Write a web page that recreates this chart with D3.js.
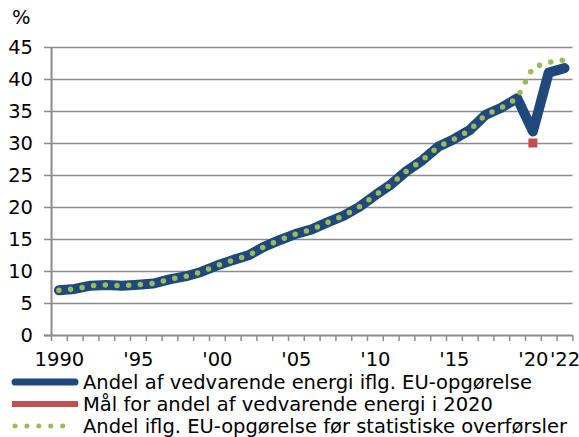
<!DOCTYPE html>
<html>
<head>
<meta charset="utf-8">
<script src="https://cdn.jsdelivr.net/npm/d3@7"></script>
<style>
  body { margin: 0; background: #fff; }
  svg { display: block; }
  text { font-family: "DejaVu Sans", Verdana, sans-serif; }
</style>
</head>
<body>
<svg></svg>
<script>
var width = 579;
var height = 437;
var fontSize = 19.5;

var years = d3.range(1990, 2023);
var euShare = [7.0, 7.2, 7.7, 7.8, 7.7, 7.85, 8.05, 8.7, 9.15, 9.85,
               10.85, 11.7, 12.45, 13.8, 14.85, 15.8, 16.5, 17.6, 18.6, 20.0,
               21.8, 23.5, 25.6, 27.3, 29.4, 30.6, 32.0, 34.4, 35.5, 37.0,
               31.8, 41.0, 41.7];
var beforeTransfers = [7.0, 7.2, 7.7, 7.8, 7.7, 7.85, 8.05, 8.7, 9.15, 9.85,
               10.85, 11.7, 12.45, 13.8, 14.85, 15.8, 16.5, 17.6, 18.6, 20.0,
               21.8, 23.5, 25.6, 27.3, 29.4, 30.6, 32.0, 34.4, 35.5, 37.0,
               41.8, 42.6, 43.0];
var targetYear = 2020;
var targetValue = 30;

var yTicks = [0, 5, 10, 15, 20, 25, 30, 35, 40, 45];
var xLabelYears = [1990, 1995, 2000, 2005, 2010, 2015, 2020, 2022];
var xLabelText = ["1990", "'95", "'00", "'05", "'10", "'15", "'20", "'22"];

var legendLabels = [
  "Andel af vedvarende energi iflg. EU-opgørelse",
  "Mål for andel af vedvarende energi i 2020",
  "Andel iflg. EU-opgørelse før statistiske overførsler"
];

var blue = "#1f497d";
var red = "#c0504d";
var green = "#9bbb59";
var grey = "#8c8c8c";

var plotLeft = 51, plotRight = 572.4, plotTop = 47, plotBottom = 335;

var xScale = d3.scaleLinear()
    .domain([1989.5, 2022.5])
    .range([plotLeft, plotRight]);

var yScale = d3.scaleLinear()
    .domain([0, 45])
    .range([plotBottom, plotTop]);

var svg = d3.select("svg")
    .attr("width", width)
    .attr("height", height);

// gridlines
svg.append("g")
    .attr("transform", `translate(${plotLeft},0)`)
    .call(d3.axisLeft(yScale).tickValues(yTicks.slice(1)).tickSize(-(plotRight - plotLeft)).tickFormat(""))
    .call(g => g.select(".domain").remove())
    .call(g => g.selectAll("line").attr("stroke", grey).attr("stroke-width", 1.5));

// y axis
svg.append("g")
    .attr("class", "y-axis")
    .attr("transform", `translate(${plotLeft},0)`)
    .call(d3.axisLeft(yScale).tickValues(yTicks).tickSize(7).tickPadding(11).tickSizeOuter(0))
    .call(g => g.select(".domain").attr("stroke", grey).attr("stroke-width", 2))
    .call(g => g.selectAll("line").attr("stroke", grey).attr("stroke-width", 1.5))
    .call(g => g.selectAll("text").attr("font-size", fontSize).attr("fill", "#000"));

// x axis: ticks on category edges
var edges = d3.range(1989.5, 2023, 1);
svg.append("g")
    .attr("transform", `translate(0,${plotBottom})`)
    .call(d3.axisBottom(xScale).tickValues(edges).tickSize(6).tickSizeOuter(0).tickFormat(""))
    .call(g => g.select(".domain").attr("stroke", grey).attr("stroke-width", 2)
        .attr("d", `M${plotLeft - 7},0.5H${plotRight}`))
    .call(g => g.selectAll("line").attr("stroke", grey).attr("stroke-width", 1.5));

svg.append("g")
    .attr("transform", `translate(0,${plotBottom})`)
    .call(d3.axisBottom(xScale).tickValues(xLabelYears).tickSize(0).tickPadding(17)
        .tickFormat((d, i) => xLabelText[i]))
    .call(g => g.select(".domain").remove())
    .call(g => g.selectAll("text").attr("font-size", fontSize).attr("fill", "#000"));

svg.append("text")
    .attr("x", 12)
    .attr("y", 24)
    .attr("font-size", fontSize)
    .text("%");

var line = d3.line()
    .x((d, i) => xScale(years[i]))
    .y(d => yScale(d));

svg.append("path")
    .datum(euShare)
    .attr("d", line)
    .attr("fill", "none")
    .attr("stroke", blue)
    .attr("stroke-width", 10)
    .attr("stroke-linejoin", "round")
    .attr("stroke-linecap", "round");

svg.append("path")
    .datum(beforeTransfers)
    .attr("d", line)
    .attr("fill", "none")
    .attr("stroke", green)
    .attr("stroke-width", 5.5)
    .attr("stroke-linecap", "round")
    .attr("stroke-dasharray", "0 11.7");

svg.append("rect")
    .attr("x", xScale(targetYear) - 4.5)
    .attr("y", yScale(targetValue) - 4.5)
    .attr("width", 9)
    .attr("height", 9)
    .attr("fill", red);

// legend
var legend = svg.append("g");
var rowY = [382, 404, 426];

legend.append("line")
    .attr("x1", 15).attr("x2", 75)
    .attr("y1", rowY[0]).attr("y2", rowY[0])
    .attr("stroke", blue).attr("stroke-width", 7).attr("stroke-linecap", "round");
legend.append("line")
    .attr("x1", 12).attr("x2", 78)
    .attr("y1", rowY[1]).attr("y2", rowY[1])
    .attr("stroke", red).attr("stroke-width", 6);
legend.append("line")
    .attr("x1", 15).attr("x2", 64)
    .attr("y1", rowY[2]).attr("y2", rowY[2])
    .attr("stroke", green).attr("stroke-width", 5)
    .attr("stroke-linecap", "round").attr("stroke-dasharray", "0 11.9");

legend.selectAll("text")
    .data(legendLabels)
    .enter()
    .append("text")
    .attr("x", 83)
    .attr("y", (d, i) => rowY[i])
    .attr("dy", "0.36em")
    .attr("font-size", fontSize)
    .text(d => d);
</script>
</body>
</html>
